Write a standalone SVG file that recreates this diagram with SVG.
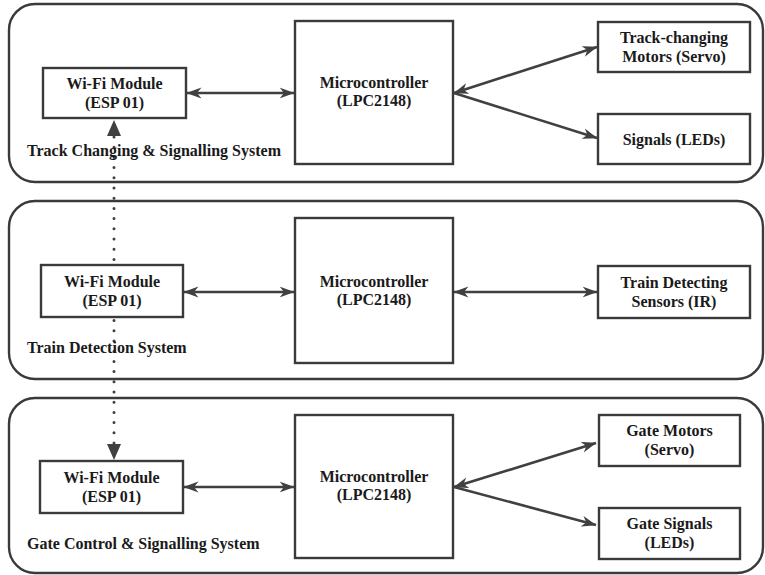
<svg xmlns="http://www.w3.org/2000/svg" width="765" height="575" viewBox="0 0 765 575">
<style>
.panel{fill:none;stroke:#3a3a3a;stroke-width:2.4}
.box{fill:#fff;stroke:#3a3a3a;stroke-width:2.4}
.t{font-family:"Liberation Serif","Times New Roman",serif;font-weight:bold;font-size:16px;fill:#1a1a1a}
.c{text-anchor:middle}
.conn{fill:none;stroke:#404040;stroke-width:2.6}
.dot{fill:none;stroke:#404040;stroke-width:3;stroke-linecap:round;stroke-dasharray:0 10.2}
</style>
<defs>
<marker id="ah" viewBox="0 0 15 12" refX="14.5" refY="6" markerWidth="15" markerHeight="12" markerUnits="userSpaceOnUse" orient="auto-start-reverse">
<path d="M0,0.5 L15,6 L0,11.5 L4.5,6 z" fill="#404040"/>
</marker>
</defs>

<g id="connectors">
<line class="conn" x1="187" y1="93" x2="294" y2="93" marker-start="url(#ah)" marker-end="url(#ah)"/>
<line class="conn" x1="454" y1="93" x2="597" y2="47" marker-start="url(#ah)" marker-end="url(#ah)"/>
<line class="conn" x1="454" y1="93" x2="597" y2="138" marker-end="url(#ah)"/>
<line class="conn" x1="184" y1="292" x2="294" y2="292" marker-start="url(#ah)" marker-end="url(#ah)"/>
<line class="conn" x1="454" y1="292" x2="597" y2="292" marker-start="url(#ah)" marker-end="url(#ah)"/>
<line class="conn" x1="184" y1="487" x2="294" y2="487" marker-start="url(#ah)" marker-end="url(#ah)"/>
<line class="conn" x1="454" y1="487" x2="596" y2="443" marker-start="url(#ah)" marker-end="url(#ah)"/>
<line class="conn" x1="454" y1="487" x2="596" y2="525" marker-end="url(#ah)"/>
<line class="dot" x1="114" y1="137" x2="114" y2="443"/>
<path d="M114,120 L107,136 L121,136 z" fill="#404040"/>
<path d="M114,460 L107,444 L121,444 z" fill="#404040"/>
</g>

<g id="panel1">
<rect class="panel" x="9" y="4" width="754" height="178" rx="26"/>
<text class="t" x="27" y="156">Track Changing &amp; Signalling System</text>
</g>
<g id="panel2">
<rect class="panel" x="9" y="201" width="754" height="178" rx="26"/>
<text class="t" x="27" y="353">Train Detection System</text>
</g>
<g id="panel3">
<rect class="panel" x="9" y="398" width="754" height="175" rx="26"/>
<text class="t" x="27" y="549">Gate Control &amp; Signalling System</text>
</g>

<g id="wifi1"><rect class="box" x="43" y="68" width="143" height="50"/>
<text class="t c" x="114.5" y="89">Wi-Fi Module</text><text class="t c" x="114.5" y="108">(ESP 01)</text></g>
<g id="mcu1"><rect class="box" x="295" y="21" width="158" height="143"/>
<text class="t c" x="374" y="88">Microcontroller</text><text class="t c" x="374" y="106">(LPC2148)</text></g>
<g id="servo1"><rect class="box" x="598" y="22" width="152" height="50"/>
<text class="t c" x="674" y="43">Track-changing</text><text class="t c" x="674" y="62">Motors (Servo)</text></g>
<g id="leds1"><rect class="box" x="598" y="114" width="152" height="50"/>
<text class="t c" x="674" y="145">Signals (LEDs)</text></g>

<g id="wifi2"><rect class="box" x="41" y="265" width="142" height="52"/>
<text class="t c" x="112" y="287">Wi-Fi Module</text><text class="t c" x="112" y="306">(ESP 01)</text></g>
<g id="mcu2"><rect class="box" x="295" y="218" width="158" height="145"/>
<text class="t c" x="374" y="287">Microcontroller</text><text class="t c" x="374" y="305">(LPC2148)</text></g>
<g id="ir2"><rect class="box" x="598" y="266" width="152" height="52"/>
<text class="t c" x="674" y="288">Train Detecting</text><text class="t c" x="674" y="307">Sensors (IR)</text></g>

<g id="wifi3"><rect class="box" x="40" y="461" width="143" height="52"/>
<text class="t c" x="111.5" y="483">Wi-Fi Module</text><text class="t c" x="111.5" y="502">(ESP 01)</text></g>
<g id="mcu3"><rect class="box" x="295" y="415" width="158" height="143"/>
<text class="t c" x="374" y="482">Microcontroller</text><text class="t c" x="374" y="500">(LPC2148)</text></g>
<g id="servo3"><rect class="box" x="599" y="415" width="141" height="51"/>
<text class="t c" x="669.5" y="436">Gate Motors</text><text class="t c" x="669.5" y="455">(Servo)</text></g>
<g id="leds3"><rect class="box" x="599" y="508" width="141" height="51"/>
<text class="t c" x="669.5" y="529">Gate Signals</text><text class="t c" x="669.5" y="548">(LEDs)</text></g>
</svg>
